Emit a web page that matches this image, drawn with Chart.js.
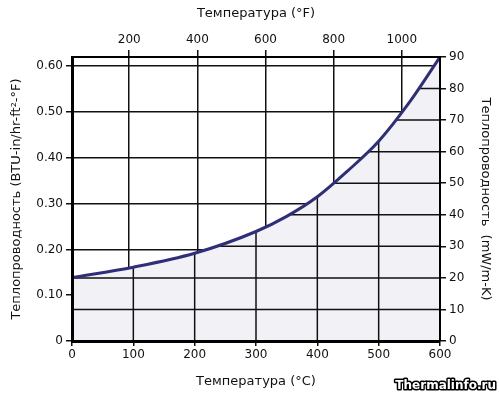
<!DOCTYPE html>
<html lang="ru">
<head>
  <meta charset="UTF-8">
  <title>Теплопроводность</title>
  <script src="https://cdn.jsdelivr.net/npm/chart.js"></script>
  <style>
    body { margin: 0; background: #fff; }
    canvas { display: block; }
  </style>
</head>
<body>
  <canvas id="chart" width="499" height="394"></canvas>
  <script>
    // thermal conductivity vs temperature
    const tempC = [0, 100, 200, 300, 350, 400, 450, 500, 550, 600];
    const condMw = [20.1, 23.4, 27.8, 34.7, 39.5, 45.7, 54.0, 63.3, 75.6, 90];

    const cTicks = [0, 100, 200, 300, 400, 500, 600];
    const fTicks = [200, 400, 600, 800, 1000];
    const btuTicks = [0, 0.1, 0.2, 0.3, 0.4, 0.5, 0.6];
    const mwTicks = [0, 10, 20, 30, 40, 50, 60, 70, 80, 90];

    const ink = '#111';
    const tickFont = { family: 'DejaVu Sans', size: 12 };
    const titleFont = { family: 'DejaVu Sans', size: 13 };

    function setTicks(list) {
      return axis => { axis.ticks = list.map(v => ({ value: v })); };
    }

    // grid lines of the bottom and right axes are only seen under the curve
    const underCurveGrid = {
      id: 'underCurveGrid',
      beforeDatasetDraw(chart, args) {
        const line = args.meta.dataset;
        const pts = args.meta.data;
        const area = chart.chartArea;
        const ctx = chart.ctx;
        line.updateControlPoints(area, 'x');
        ctx.save();
        ctx.beginPath();
        line.path(ctx);
        ctx.lineTo(pts[pts.length - 1].x, area.bottom);
        ctx.lineTo(pts[0].x, area.bottom);
        ctx.closePath();
        ctx.clip();
        ctx.strokeStyle = ink;
        ctx.lineWidth = 1.5;
        ctx.beginPath();
        const sx = chart.scales.x, sy = chart.scales.y2;
        cTicks.slice(1, -1).forEach(v => {
          const px = sx.getPixelForValue(v);
          ctx.moveTo(px, area.top);
          ctx.lineTo(px, area.bottom);
        });
        mwTicks.slice(1, -1).forEach(v => {
          const py = sy.getPixelForValue(v);
          ctx.moveTo(area.left, py);
          ctx.lineTo(area.right, py);
        });
        ctx.stroke();
        ctx.restore();
      }
    };

    const watermark = {
      id: 'watermark',
      afterDraw(chart) {
        const ctx = chart.ctx;
        ctx.save();
        ctx.font = 'bold 12px "DejaVu Sans"';
        ctx.textAlign = 'right';
        ctx.textBaseline = 'alphabetic';
        ctx.lineJoin = 'round';
        ctx.lineWidth = 3;
        ctx.strokeStyle = '#000';
        ctx.strokeText('Thermalinfo.ru', 496, 389);
        ctx.fillStyle = '#fff';
        ctx.fillText('Thermalinfo.ru', 496, 389);
        ctx.restore();
      }
    };

    new Chart(document.getElementById('chart'), {
      type: 'line',
      data: {
        datasets: [{
          data: tempC.map((t, i) => ({ x: t, y: condMw[i] })),
          xAxisID: 'x',
          yAxisID: 'y2',
          borderColor: '#2e2f78',
          borderWidth: 3,
          backgroundColor: '#f2f2f6',
          fill: 'origin',
          pointRadius: 0,
          cubicInterpolationMode: 'monotone'
        }]
      },
      options: {
        responsive: false,
        animation: false,
        layout: { padding: 0 },
        plugins: { legend: { display: false }, tooltip: { enabled: false } },
        scales: {
          x: {
            type: 'linear', position: 'bottom', min: 0, max: 600,
            afterBuildTicks: setTicks(cTicks),
            afterFit: s => { s.height = 53; },
            grid: { drawOnChartArea: false, color: ink, lineWidth: 1.5, tickLength: 5 },
            border: { color: '#000', width: 3, z: 1 },
            ticks: { font: tickFont, color: ink, padding: 2, maxRotation: 0, callback: v => String(v) },
            title: { display: true, text: 'Температура (°C)', font: titleFont, color: ink, padding: { top: 0, bottom: 5 } }
          },
          x2: {
            type: 'linear', axis: 'x', position: 'top', min: 32, max: 1112,
            afterBuildTicks: setTicks(fTicks),
            afterFit: s => { s.height = 57; },
            grid: { color: ink, lineWidth: 1.5, tickLength: 7 },
            border: { color: '#000', width: 2, z: 1 },
            ticks: { font: tickFont, color: ink, padding: 3, maxRotation: 0, callback: v => String(v) },
            title: { display: true, text: 'Температура (°F)', font: titleFont, color: ink, padding: { top: 6, bottom: 0 } }
          },
          y: {
            type: 'linear', position: 'left', min: 0, max: 0.62,
            afterBuildTicks: setTicks(btuTicks),
            afterFit: s => { s.width = 72; },
            grid: { color: ink, lineWidth: 1.5, tickLength: 6 },
            border: { color: '#000', width: 3, z: 1 },
            ticks: { font: tickFont, color: ink, padding: 3, callback: v => v === 0 ? '0' : v.toFixed(2) },
            title: { display: true, text: 'Теплопроводность (BTU-in/hr-ft²-°F)', font: titleFont, color: ink, padding: { top: 9, bottom: 0 } }
          },
          y2: {
            type: 'linear', axis: 'y', position: 'right', min: 0, max: 90,
            afterBuildTicks: setTicks(mwTicks),
            afterFit: s => { s.width = 59; },
            grid: { drawOnChartArea: false, color: ink, lineWidth: 1.5, tickLength: 6 },
            border: { color: '#000', width: 2, z: 1 },
            ticks: { font: tickFont, color: ink, padding: 3, callback: v => String(v) },
            title: { display: true, text: 'Теплопроводность  (mW/m-K)', font: titleFont, color: ink, padding: { top: 6, bottom: 0 } }
          }
        }
      },
      plugins: [underCurveGrid, watermark]
    });
  </script>
</body>
</html>
